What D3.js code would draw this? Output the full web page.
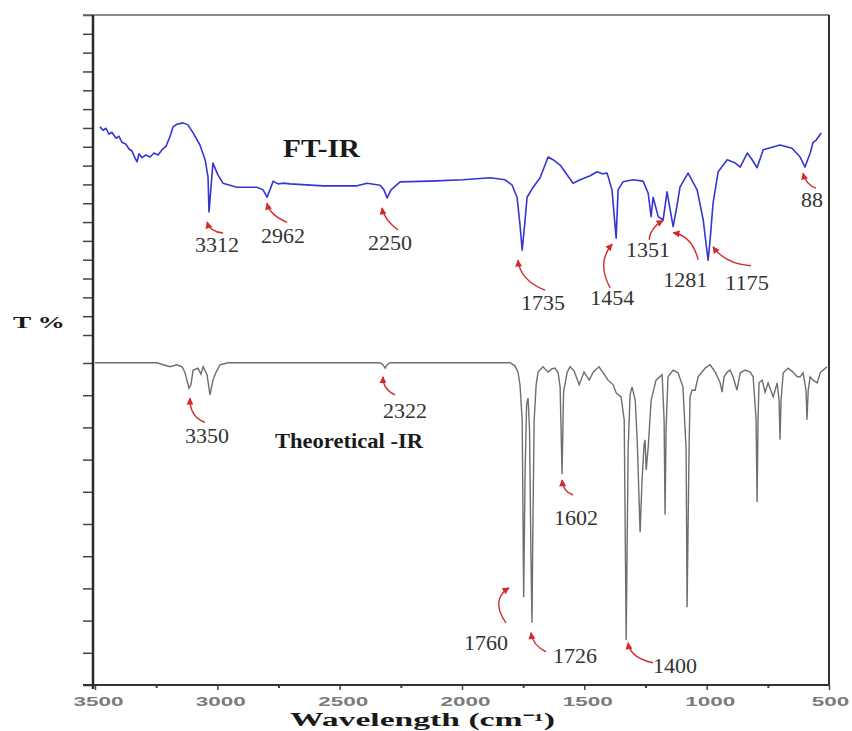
<!DOCTYPE html>
<html lang="en">
<head>
    <meta charset="UTF-8">
    <title>FT-IR vs Theoretical IR</title>
    <style>
        body{
            margin: 0;
            background: #fff;
        }
        svg{
            display: block;
        }
        .peak{
            font-family: "Liberation Serif", serif;
            font-size: 20px;
            fill: #333;
            text-anchor: middle;
        }
        .title{
            font-family: "Liberation Serif", serif;
            font-weight: bold;
            fill: #1a1a1a;
        }
        .tickLabel{
            font-family: "Liberation Sans", sans-serif;
            font-weight: bold;
            font-size: 13px;
            fill: #7a7a7a;
        }
        .arrow{
            fill: none;
            stroke: #d42a2a;
            stroke-width: 1.4px;
        }
    </style>
    <script src="https://d3js.org/d3.v7.min.js"></script>
</head>
<body>
<svg width="852" height="731" id="figure"></svg>
<script>
    // measured FT-IR spectrum [wavenumber cm-1, T]
    const ftirPoints = [
        [3480,83.3],[3467,82.8],[3455,83.1],[3443,82.2],[3431,82.5],[3414,81.6],[3402,81.9],
        [3390,81.0],[3373,80.7],[3361,80.0],[3349,79.7],[3336,78.6],[3328,78.1],[3320,79.3],
        [3308,78.7],[3292,79.1],[3275,78.8],[3259,79.4],[3242,79.1],[3226,79.9],[3210,80.4],
        [3193,81.9],[3181,83.3],[3165,83.7],[3140,83.9],[3120,83.6],[3099,82.4],[3071,80.6],
        [3050,78.4],[3038,75.8],[3034,70.6],[3030,72.4],[3018,77.9],[2997,76.1],[2977,74.9],
        [2920,74.3],[2838,74.3],[2813,73.9],[2797,72.8],[2785,73.9],[2772,75.2],[2752,74.8],
        [2731,74.9],[2703,74.8],[2568,74.5],[2429,74.5],[2388,74.9],[2335,74.6],[2319,73.9],
        [2306,72.7],[2290,73.9],[2253,75.1],[2130,75.2],[1996,75.4],[1885,75.7],[1824,75.4],
        [1795,74.6],[1775,72.8],[1763,68.7],[1754,64.9],[1746,67.9],[1734,72.8],[1709,74.3],
        [1681,75.7],[1648,78.8],[1628,78.4],[1599,77.6],[1546,74.9],[1517,75.4],[1476,76.0],
        [1448,76.6],[1427,76.3],[1407,76.4],[1387,73.9],[1378,70.1],[1370,66.7],[1362,73.9],
        [1342,75.1],[1301,75.4],[1260,75.2],[1239,73.4],[1227,69.9],[1219,72.8],[1198,69.9],
        [1178,69.4],[1162,73.6],[1149,70.9],[1137,68.4],[1121,71.6],[1109,74.3],[1076,76.4],
        [1039,73.9],[1014,69.4],[1002,65.7],[994,63.4],[986,66.4],[974,71.9],[953,76.6],
        [916,78.4],[883,77.9],[863,77.3],[834,79.4],[814,78.4],[794,77.2],[769,79.9],
        [700,80.6],[651,80.1],[618,78.8],[598,77.3],[577,79.4],[565,81.0],[553,81.3],[532,82.4]
    ]

    // calculated spectrum [wavenumber cm-1, T]
    const theoryPoints = [
        [3500,48.1],[3247,48.1],[3222,47.8],[3193,47.5],[3165,47.8],[3144,47.5],[3132,46.6],
        [3116,44.3],[3108,44.8],[3099,47.0],[3079,47.3],[3067,46.4],[3058,47.5],[3042,46.3],
        [3030,43.3],[3018,45.5],[3005,46.7],[2989,47.8],[2956,48.1],[2335,48.1],[2323,47.8],
        [2314,47.3],[2306,47.8],[2294,48.1],[1803,48.1],[1783,47.6],[1771,46.7],[1763,44.8],
        [1754,39.6],[1748,13.1],[1742,32.1],[1736,41.8],[1730,42.8],[1724,38.1],[1718,18.7],
        [1714,9.3],[1710,24.6],[1705,39.6],[1697,44.8],[1689,46.7],[1669,47.5],[1648,46.7],
        [1632,47.2],[1620,47.3],[1607,46.6],[1599,44.5],[1591,31.5],[1585,43.7],[1570,46.7],
        [1558,47.5],[1542,46.9],[1521,44.8],[1501,46.7],[1480,45.5],[1464,46.7],[1440,47.5],
        [1423,46.6],[1403,45.5],[1382,44.8],[1370,43.6],[1350,43.0],[1337,39.6],[1329,6.7],
        [1321,35.1],[1313,43.3],[1305,44.5],[1292,42.5],[1284,36.6],[1272,22.8],[1264,30.6],
        [1256,35.8],[1252,36.6],[1247,32.1],[1239,35.5],[1227,42.5],[1207,45.5],[1182,46.3],
        [1174,39.6],[1170,25.4],[1166,38.1],[1158,46.0],[1137,47.0],[1117,46.6],[1097,44.5],
        [1084,35.1],[1080,11.6],[1072,35.1],[1068,43.0],[1060,44.0],[1047,44.0],[1035,46.0],
        [1006,47.3],[986,47.8],[965,46.7],[945,45.1],[937,43.7],[929,46.0],[916,46.7],
        [904,47.0],[892,46.0],[876,44.0],[863,46.6],[843,47.0],[822,46.7],[810,46.0],
        [798,39.6],[794,27.3],[790,39.6],[786,45.1],[773,45.5],[761,43.7],[749,45.1],
        [728,43.0],[712,45.1],[704,42.5],[700,36.6],[696,42.5],[687,46.6],[667,47.3],
        [647,46.7],[630,46.0],[618,46.0],[606,46.6],[594,44.0],[590,39.6],[585,44.0],
        [577,46.0],[565,45.5],[548,45.1],[536,46.6],[524,47.0],[508,47.5]
    ]

    // annotated bands: label, wavenumber and T where the arrow points
    const ftirLabels = ["3312","2962","2250","1735","1454","1351","1281","1175","88"]
    const ftirLabelWn = [3042, 2797, 2327, 1771, 1386, 1178, 1137, 974, 606]
    const ftirLabelT = [69.1, 71.9, 71.2, 63.4, 65.8, 69.3, 67.5, 65.4, 76.4]

    const theoryLabels = ["3350","2322","1760","1726","1602","1400"]
    const theoryLabelWn = [3112, 2323, 1808, 1718, 1591, 1321]
    const theoryLabelT = [42.8, 46.0, 14.5, 7.8, 30.6, 6.3]

    const xTicks = [3500, 3000, 2500, 2000, 1500, 1000, 500]
    const xMinorTicks = [3250, 2750, 2250, 1750, 1250, 750]

    const svg = d3.select("#figure")
    const plotLeft = 93, plotRight = 829, plotTop = 15, plotBottom = 685

    let x = d3.scaleLinear().domain([3500, 500]).range([95, plotRight])
    let y = d3.scaleLinear().domain([0, 100]).range([plotBottom, plotTop])

    // arrow head
    svg.append("defs").append("marker")
        .attr("id", "head")
        .attr("viewBox", "0 0 10 10")
        .attr("refX", 9).attr("refY", 5)
        .attr("markerUnits", "userSpaceOnUse")
        .attr("markerWidth", 8).attr("markerHeight", 7)
        .attr("orient", "auto-start-reverse")
        .append("path")
        .attr("d", "M0,0 L10,5 L0,10 z")
        .attr("fill", "#d42a2a")

    // left ticks: two groups with different spacing
    let upTicks = d3.scaleLinear().domain([0, 17]).range([335, plotTop])
    let lowTicks = d3.scaleLinear().domain([0, 10]).range([plotBottom, 363])
    ;[upTicks, lowTicks].forEach(function (s, i){
        let g = svg.append("g")
            .attr("transform", `translate(${plotLeft},0)`)
            .call(d3.axisLeft(s).tickValues(d3.range(0, i == 0 ? 18 : 11)).tickSize(10).tickFormat(""))
        g.select(".domain").remove()
        g.selectAll("line").attr("stroke", "#444").attr("stroke-width", 1.5)
    })

    // bottom axis
    let gx = svg.append("g")
        .attr("transform", `translate(0,${plotBottom})`)
        .call(d3.axisBottom(x).tickValues(xTicks).tickSize(5).tickFormat(d3.format("d")))
    gx.select(".domain").remove()
    gx.selectAll("line").attr("stroke", "#444").attr("stroke-width", 1.5)
    gx.selectAll("text")
        .attr("class", "tickLabel")
        .attr("y", 21).attr("dy", null)
        .attr("dx", function (d){return d == 500 ? 1 : 3})
        .attr("textLength", function (d){return String(d).length * 12.5})
        .attr("lengthAdjust", "spacingAndGlyphs")

    let gm = svg.append("g")
        .attr("transform", `translate(0,${plotBottom})`)
        .call(d3.axisBottom(x).tickValues(xMinorTicks).tickSize(3).tickFormat(""))
    gm.select(".domain").remove()
    gm.selectAll("line").attr("stroke", "#444").attr("stroke-width", 2)

    // frame
    svg.append("line").attr("x1", 83).attr("x2", plotRight).attr("y1", plotTop).attr("y2", plotTop)
        .attr("stroke", "#666").attr("stroke-width", 1.5)
    svg.append("line").attr("x1", plotRight).attr("x2", plotRight).attr("y1", plotTop).attr("y2", plotBottom)
        .attr("stroke", "#333").attr("stroke-width", 2)
    svg.append("line").attr("x1", 83).attr("x2", plotRight).attr("y1", plotBottom).attr("y2", plotBottom)
        .attr("stroke", "#333").attr("stroke-width", 2)
    svg.append("line").attr("x1", plotLeft).attr("x2", plotLeft).attr("y1", plotTop).attr("y2", plotBottom + 4)
        .attr("stroke", "#2a2a2a").attr("stroke-width", 2.5)

    // spectra
    let line = d3.line().x(function (d){return x(d[0])}).y(function (d){return y(d[1])})
    svg.append("path").datum(theoryPoints)
        .attr("d", line)
        .attr("fill", "none")
        .attr("stroke", "#6e6e6e")
        .attr("stroke-width", 1.4)
    svg.append("path").datum(ftirPoints)
        .attr("d", line)
        .attr("fill", "none")
        .attr("stroke", "#3535d0")
        .attr("stroke-width", 1.6)
        .attr("stroke-linejoin", "round")

    // arrow shape (control, tail) and text offset in px from the arrow tip
    const arrowLayout = {
        "3312": [3, 10, 16, 11, 10, 30],
        "2962": [3, 12, 20, 19, 16, 40],
        "2250": [2, 12, 16, 22, 8, 42],
        "1735": [2, 20, 27, 30, 25, 50],
        "1454": [-16, 18, -2, 44, 0, 61],
        "1351": [-13, 7, -14, 19, -15, 36],
        "1281": [19, 3, 25, 27, 12, 54],
        "1175": [12, 17, 38, 19, 34, 43],
        "88":   [3, 12, 13, 15, 9, 34],
        "3350": [0, 19, 15, 24, 17, 45],
        "2322": [0, 13, 12, 18, 22, 41],
        "1760": [-19, 12, -3, 35, -23, 62],
        "1726": [2, 13, 15, 19, 44, 30],
        "1602": [1, 12, 11, 15, 14, 45],
        "1400": [2, 15, 25, 20, 47, 30]
    }

    function annotate(labels, wns, ts){
        labels.forEach(function (lab, i){
            let px = x(wns[i]), py = y(ts[i])
            let L = arrowLayout[lab]
            svg.append("path")
                .attr("class", "arrow")
                .attr("d", `M${px},${py} Q${px + L[0]},${py + L[1]} ${px + L[2]},${py + L[3]}`)
                .attr("marker-start", "url(#head)")
            svg.append("text")
                .attr("class", "peak")
                .attr("x", px + L[4])
                .attr("y", py + L[5])
                .attr("textLength", lab.length * 11)
                .attr("lengthAdjust", "spacingAndGlyphs")
                .text(lab)
        })
    }
    annotate(ftirLabels, ftirLabelWn, ftirLabelT)
    annotate(theoryLabels, theoryLabelWn, theoryLabelT)

    // titles
    svg.append("text").attr("class", "title")
        .attr("x", 283).attr("y", 157)
        .attr("font-size", 26)
        .attr("textLength", 77).attr("lengthAdjust", "spacingAndGlyphs")
        .text("FT-IR")
    svg.append("text").attr("class", "title")
        .attr("x", 275).attr("y", 448)
        .attr("font-size", 21)
        .attr("textLength", 148).attr("lengthAdjust", "spacingAndGlyphs")
        .text("Theoretical -IR")
    svg.append("text").attr("class", "title")
        .attr("x", 13).attr("y", 328)
        .attr("font-size", 17)
        .attr("textLength", 52).attr("lengthAdjust", "spacingAndGlyphs")
        .text("T %")
    svg.append("text").attr("class", "title")
        .attr("x", 290).attr("y", 726)
        .attr("font-size", 18)
        .attr("fill", "#222")
        .attr("textLength", 265).attr("lengthAdjust", "spacingAndGlyphs")
        .text("Wavelength (cm⁻¹)")
</script>
</body>
</html>
